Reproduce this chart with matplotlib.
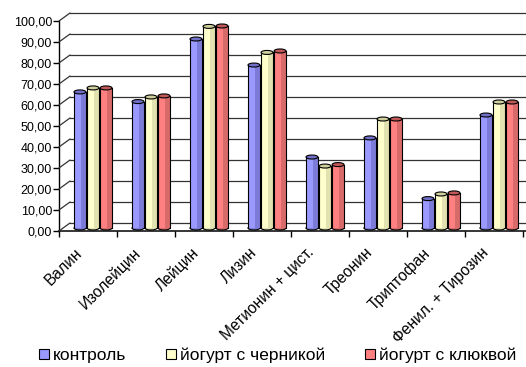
import matplotlib
matplotlib.use("Agg")
import matplotlib.pyplot as plt
import matplotlib.transforms as mtransforms
from matplotlib.patches import Rectangle, Ellipse, Patch
import numpy as np

plt.rcParams['font.family'] = ['Liberation Sans', 'DejaVu Sans']

categories = ["Валин", "Изолейцин", "Лейцин", "Лизин", "Метионин + цист.",
              "Треонин", "Триптофан", "Фенил. + Тирозин"]
series_names = ["контроль", "йогурт с черникой", "йогурт с клюквой"]
control = [64.8, 60.2, 90.0, 77.6, 33.8, 42.9, 14.0, 53.8]
blueberry = [66.7, 62.4, 96.0, 83.6, 29.5, 51.9, 16.2, 60.0]
cranberry = [66.7, 62.9, 96.2, 84.3, 30.2, 51.9, 16.7, 60.0]
yticks = np.arange(0, 101, 10)
ytick_labels = [f"{v:.2f}".replace(".", ",") for v in yticks]

face = ["#9999FF", "#FFFFCC", "#FF8080"]
side = ["#7C7CD8", "#E2E2B0", "#D86A6A"]
topc = ["#7070C8", "#CFCF9E", "#C05858"]

W, H = 526, 367
fig = plt.figure(figsize=(W / 100, H / 100), dpi=100)
ax = fig.add_axes([59 / W, (H - 231) / H, 464 / W, 210 / H])
ax.set_xlim(0, len(categories))
ax.set_ylim(0, 100)
for s in ax.spines.values():
    s.set_visible(False)

px = 72 / 100
mid = mtransforms.offset_copy(ax.transData, fig=fig, x=5 * px, y=3 * px, units='points')
back_y = mtransforms.offset_copy(ax.get_yaxis_transform(), fig=fig, x=11 * px, y=8 * px, units='points')

for v in yticks:
    ax.plot([0, 1.2], [v, v], transform=back_y, color="#333333", lw=0.9, clip_on=False, zorder=1)
    ax.annotate("", xy=(0, v), xycoords=back_y, xytext=(0, v), textcoords=ax.get_yaxis_transform(),
                arrowprops=dict(arrowstyle="-", color="#333333", lw=0.9, shrinkA=0, shrinkB=0))
ax.plot([0, 0], [0, 100], transform=ax.get_yaxis_transform(), color="black", lw=1, clip_on=False)
ax.plot([0, 1.2], [0, 0], transform=ax.get_yaxis_transform(), color="black", lw=1.1, clip_on=False)

ax.set_yticks(yticks)
ax.set_yticklabels(ytick_labels, fontsize=9)
ax.tick_params(axis='y', length=4, width=1, color="black", pad=1)

ax.set_xticks(np.arange(len(categories)) + 0.27)
ax.set_xticklabels(categories, rotation=45, ha='right', rotation_mode='anchor', fontsize=11.2)
ax.tick_params(axis='x', which='major', length=0, pad=10)
ax.set_xticks(np.arange(len(categories) + 1), minor=True)
ax.tick_params(axis='x', which='minor', length=4, width=1, color="black")

data = [control, blueberry, cranberry]
bw = 0.205
pitch = 0.225
eh = 1.9
for k, vals in enumerate(data):
    for i, v in enumerate(vals):
        xc = i + 0.5 + (k - 1) * pitch
        x0 = xc - bw / 2
        ax.add_patch(Ellipse((xc, 0), bw, eh, facecolor=side[k], edgecolor="black",
                             lw=0.8, transform=mid, zorder=3, clip_on=False))
        ax.add_patch(Rectangle((x0, 0), bw, v, facecolor=face[k], edgecolor="none",
                               transform=mid, zorder=4, clip_on=False))
        ax.add_patch(Rectangle((x0 + bw * 0.62, 0), bw * 0.38, v, facecolor=side[k], edgecolor="none",
                               transform=mid, zorder=4, clip_on=False))
        ax.plot([x0, x0], [0, v], transform=mid, color="black", lw=0.8, zorder=5, clip_on=False)
        ax.plot([x0 + bw, x0 + bw], [0, v], transform=mid, color="black", lw=0.8, zorder=5, clip_on=False)
        ax.add_patch(Ellipse((xc, v), bw, eh, facecolor=topc[k], edgecolor="black",
                             lw=0.8, transform=mid, zorder=6, clip_on=False))

handles = [Patch(facecolor=face[k], edgecolor="black", lw=0.8) for k in range(3)]
fig.legend(handles, series_names, loc='lower center', bbox_to_anchor=(0.528, -0.008), ncol=3,
           frameon=False, fontsize=12.5, handlelength=0.55, handleheight=0.55, handletextpad=0.25,
           columnspacing=2.3, borderaxespad=0.0)

fig.savefig("out.png", dpi=100)
